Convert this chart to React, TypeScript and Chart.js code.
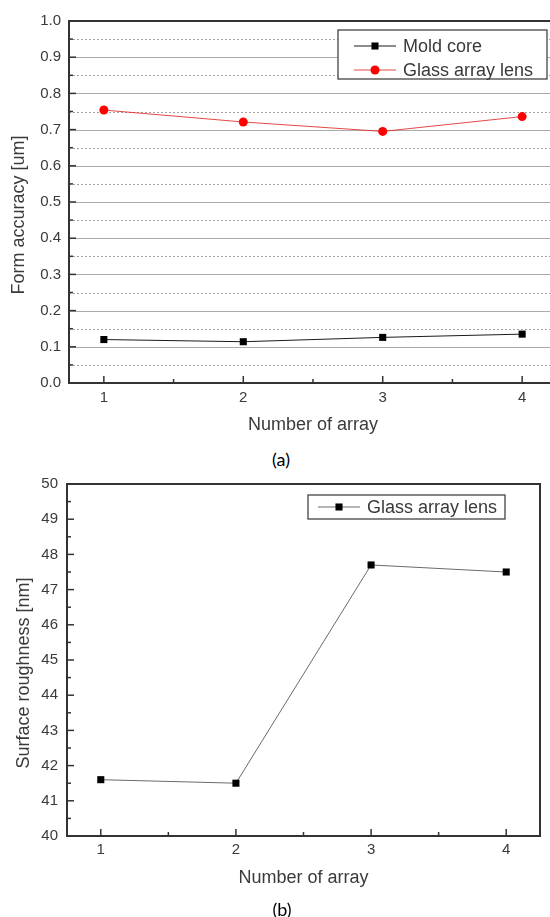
import React, { useEffect, useRef } from "react";
import { Chart, registerables } from "chart.js";

Chart.register(...registerables);

// ---------- data ----------
const arrayNumbers = [1, 2, 3, 4];
const moldCoreAccuracy = [0.12, 0.114, 0.126, 0.135];
const glassLensAccuracy = [0.754, 0.721, 0.695, 0.736];
const glassLensRoughness = [41.6, 41.5, 47.7, 47.5];
const accuracyRange = [0, 1.0];
const roughnessRange = [40, 50];
const arrayRange = [0.75, 4.25];
const seriesNamesA = ["Mold core", "Glass array lens"];
const seriesNamesB = ["Glass array lens"];
const xTitle = "Number of array";
const yTitleA = "Form accuracy [um]";
const yTitleB = "Surface roughness [nm]";

const FONT = "'Liberation Sans', Arial, sans-serif";
const TEXT = "#3a3a3a";
const AXIS = "#333333";

function strokeLine(ctx: CanvasRenderingContext2D, x1: number, y1: number, x2: number, y2: number) {
  ctx.beginPath();
  ctx.moveTo(x1, y1);
  ctx.lineTo(x2, y2);
  ctx.stroke();
}

const framePlugin: any = {
  id: "frame",
  beforeDatasetsDraw(chart: any, _a: any, opts: any) {
    if (!opts.grid) return;
    const { ctx, chartArea: a, scales } = chart;
    const y = scales.y;
    const vals = y.ticks.map((t: any) => t.value);
    ctx.save();
    ctx.lineWidth = 1;
    ctx.strokeStyle = "#a0a0a0";
    ctx.setLineDash([2, 2]);
    for (let i = 0; i < vals.length - 1; i++) {
      const py = Math.round(y.getPixelForValue((vals[i] + vals[i + 1]) / 2)) + 0.5;
      strokeLine(ctx, a.left, py, a.right, py);
    }
    ctx.setLineDash([]);
    ctx.strokeStyle = "#ababab";
    ctx.lineWidth = 1.2;
    for (let i = 1; i < vals.length - 1; i++) {
      const py = Math.round(y.getPixelForValue(vals[i])) + 0.5;
      strokeLine(ctx, a.left, py, a.right, py);
    }
    ctx.restore();
  },
  afterDatasetsDraw(chart: any) {
    const { ctx, chartArea: a, scales } = chart;
    const x = scales.x;
    const y = scales.y;
    ctx.save();
    ctx.strokeStyle = AXIS;
    ctx.lineWidth = 1.5;
    // ticks (inward)
    const yv = y.ticks.map((t: any) => t.value);
    yv.forEach((v: number, i: number) => {
      const py = y.getPixelForValue(v);
      strokeLine(ctx, a.left, py, a.left + 7, py);
      if (i < yv.length - 1) {
        const pm = y.getPixelForValue((v + yv[i + 1]) / 2);
        strokeLine(ctx, a.left, pm, a.left + 4, pm);
      }
    });
    const xv = x.ticks.map((t: any) => t.value);
    xv.forEach((v: number, i: number) => {
      const px = x.getPixelForValue(v);
      strokeLine(ctx, px, a.bottom, px, a.bottom - 7);
      if (i < xv.length - 1) {
        const pm = x.getPixelForValue((v + xv[i + 1]) / 2);
        strokeLine(ctx, pm, a.bottom, pm, a.bottom - 4);
      }
    });
    // frame
    ctx.lineWidth = 2;
    ctx.strokeRect(a.left, a.top, a.right - a.left, a.bottom - a.top);
    ctx.restore();
  },
  afterDraw(chart: any, _a: any, opts: any) {
    const { ctx, chartArea: a } = chart;
    ctx.save();
    // y title
    ctx.fillStyle = TEXT;
    ctx.font = `18px ${FONT}`;
    ctx.textAlign = "center";
    ctx.textBaseline = "middle";
    ctx.translate(opts.yTitleX, (a.top + a.bottom) / 2 + opts.yTitleShift);
    ctx.rotate(-Math.PI / 2);
    ctx.fillText(opts.yTitle, 0, 0);
    ctx.restore();

    // legend
    const L = opts.legend;
    ctx.save();
    ctx.fillStyle = "#fff";
    ctx.fillRect(L.left, L.top, L.width, L.height);
    ctx.strokeStyle = "#444";
    ctx.lineWidth = 1.3;
    ctx.strokeRect(L.left, L.top, L.width, L.height);
    chart.data.datasets.forEach((ds: any, i: number) => {
      const cy = L.top + L.firstRow + i * L.rowGap;
      ctx.strokeStyle = ds.borderColor;
      ctx.lineWidth = 1;
      strokeLine(ctx, L.lineX1, cy, L.lineX2, cy);
      const mx = (L.lineX1 + L.lineX2) / 2;
      ctx.fillStyle = ds.pointBackgroundColor;
      if (ds.pointStyle === "circle") {
        ctx.beginPath();
        ctx.arc(mx, cy, ds.pointRadius, 0, Math.PI * 2);
        ctx.fill();
      } else {
        const s = ds.pointRadius * Math.SQRT1_2;
        ctx.fillRect(mx - s, cy - s, 2 * s, 2 * s);
      }
      ctx.fillStyle = TEXT;
      ctx.font = `18px ${FONT}`;
      ctx.textAlign = "left";
      ctx.textBaseline = "middle";
      ctx.fillText(ds.label, L.textX, cy + 1);
    });
    ctx.restore();
  },
};

function makeOptions(opts: {
  yRange: number[];
  yStep: number;
  yDecimals: number;
  padTop: number;
  padRight: number;
  yWidth: number;
  xHeight: number;
  yLabelPad: number;
  xLabelPad: number;
  xTitlePadBottom: number;
  frame: any;
}) {
  return {
    animation: false as const,
    responsive: false,
    maintainAspectRatio: false,
    layout: { padding: { top: opts.padTop, right: opts.padRight, left: 0, bottom: 0 } },
    plugins: {
      legend: { display: false },
      tooltip: { enabled: false },
      frame: opts.frame,
    },
    scales: {
      x: {
        type: "linear" as const,
        min: arrayRange[0],
        max: arrayRange[1],
        grid: { display: false, drawTicks: false },
        border: { display: false },
        afterBuildTicks: (s: any) => {
          s.ticks = arrayNumbers.map((v) => ({ value: v }));
        },
        afterFit: (s: any) => {
          s.height = opts.xHeight;
        },
        ticks: {
          color: TEXT,
          padding: opts.xLabelPad,
          font: { family: FONT, size: 15 },
          callback: (v: any) => String(v),
        },
        title: {
          display: true,
          text: xTitle,
          color: TEXT,
          font: { family: FONT, size: 18 },
          padding: { top: 0, bottom: opts.xTitlePadBottom },
        },
      },
      y: {
        type: "linear" as const,
        min: opts.yRange[0],
        max: opts.yRange[1],
        grid: { display: false, drawTicks: false },
        border: { display: false },
        afterFit: (s: any) => {
          s.width = opts.yWidth;
        },
        ticks: {
          stepSize: opts.yStep,
          color: TEXT,
          padding: opts.yLabelPad,
          font: { family: FONT, size: 15 },
          callback: (v: any) => Number(v).toFixed(opts.yDecimals),
        },
      },
    },
  };
}

function ChartA() {
  const ref = useRef<HTMLCanvasElement>(null);
  useEffect(() => {
    const chart = new Chart(ref.current as HTMLCanvasElement, {
      type: "line",
      data: {
        datasets: [
          {
            label: seriesNamesA[0],
            data: arrayNumbers.map((x, i) => ({ x, y: moldCoreAccuracy[i] })),
            borderColor: "#1a1a1a",
            borderWidth: 1,
            pointStyle: "rect",
            pointRadius: 5,
            pointBackgroundColor: "#000",
            pointBorderWidth: 0,
            tension: 0,
          },
          {
            label: seriesNamesA[1],
            data: arrayNumbers.map((x, i) => ({ x, y: glassLensAccuracy[i] })),
            borderColor: "rgba(225,40,40,0.85)",
            borderWidth: 1,
            pointStyle: "circle",
            pointRadius: 4.5,
            pointBackgroundColor: "#ff0000",
            pointBorderWidth: 0,
            tension: 0,
          },
        ] as any,
      },
      options: makeOptions({
        yRange: accuracyRange,
        yStep: 0.1,
        yDecimals: 1,
        padTop: 21,
        padRight: 13,
        yWidth: 69,
        xHeight: 57,
        yLabelPad: 8,
        xLabelPad: 6,
        xTitlePadBottom: 4,
        frame: {
          grid: true,
          yTitle: yTitleA,
          yTitleX: 19.5,
          yTitleShift: 13,
          legend: {
            left: 338,
            top: 30,
            width: 209,
            height: 49,
            firstRow: 16,
            rowGap: 24,
            lineX1: 354,
            lineX2: 396,
            textX: 403,
          },
        },
      }) as any,
      plugins: [framePlugin],
    });
    return () => chart.destroy();
  }, []);
  return (
    <canvas
      ref={ref}
      width={570}
      height={440}
      style={{ position: "absolute", left: 0, top: 0, width: 570, height: 440 }}
    />
  );
}

function ChartB() {
  const ref = useRef<HTMLCanvasElement>(null);
  useEffect(() => {
    const chart = new Chart(ref.current as HTMLCanvasElement, {
      type: "line",
      data: {
        datasets: [
          {
            label: seriesNamesB[0],
            data: arrayNumbers.map((x, i) => ({ x, y: glassLensRoughness[i] })),
            borderColor: "#6a6a6a",
            borderWidth: 1,
            pointStyle: "rect",
            pointRadius: 5,
            pointBackgroundColor: "#000",
            pointBorderWidth: 0,
            tension: 0,
          },
        ] as any,
      },
      options: makeOptions({
        yRange: roughnessRange,
        yStep: 1,
        yDecimals: 0,
        padTop: 24,
        padRight: 10,
        yWidth: 67,
        xHeight: 81,
        yLabelPad: 9,
        xLabelPad: 5,
        xTitlePadBottom: 28,
        frame: {
          grid: false,
          yTitle: yTitleB,
          yTitleX: 24.5,
          yTitleShift: 13,
          legend: {
            left: 308,
            top: 35,
            width: 197,
            height: 24,
            firstRow: 12,
            rowGap: 24,
            lineX1: 318,
            lineX2: 360,
            textX: 367,
          },
        },
      }) as any,
      plugins: [framePlugin],
    });
    return () => chart.destroy();
  }, []);
  return (
    <canvas
      ref={ref}
      width={550}
      height={457}
      style={{ position: "absolute", left: 0, top: 460, width: 550, height: 457 }}
    />
  );
}

const captionStyle: React.CSSProperties = {
  position: "absolute",
  transform: "translate(-50%, -50%)",
  fontFamily: "Lato, 'Open Sans', sans-serif",
  fontSize: 18,
  lineHeight: 1,
  color: "#000",
  whiteSpace: "nowrap",
};

export default function App() {
  return (
    <div
      style={{
        position: "absolute",
        left: 0,
        top: 0,
        width: 550,
        height: 917,
        overflow: "hidden",
        background: "#fff",
      }}
    >
      <ChartA />
      <div style={{ ...captionStyle, left: 281, top: 459 }}>(a)</div>
      <ChartB />
      <div style={{ ...captionStyle, left: 282, top: 909 }}>(b)</div>
    </div>
  );
}
